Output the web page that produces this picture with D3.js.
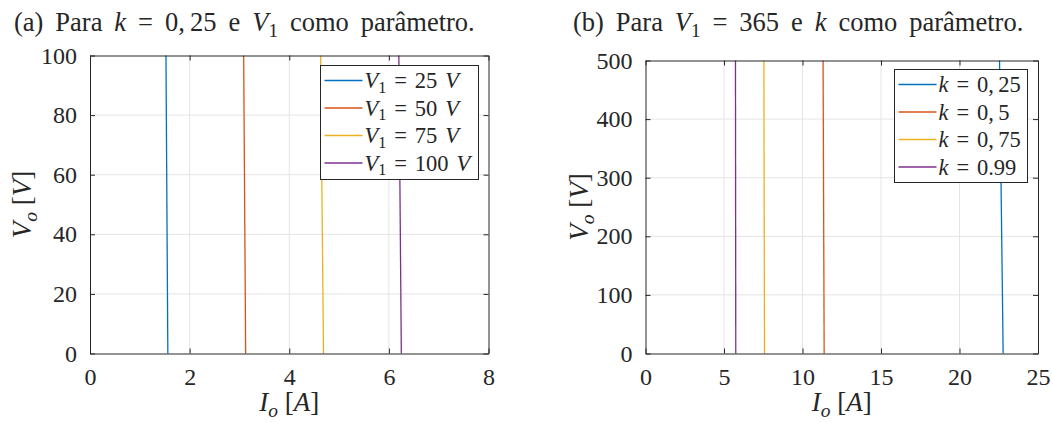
<!DOCTYPE html>
<html>
<head>
<meta charset="utf-8">
<script src="https://cdn.jsdelivr.net/npm/d3@7"></script>
<style>
  html, body { margin: 0; padding: 0; background: #fff; }
  svg { display: block; }
</style>
</head>
<body>
<svg id="chart" width="1053" height="423"></svg>
<script>
// Panel (a): k = 0,25, V1 as parameter
const v1Values = [25, 50, 75, 100];
const ioAtZeroA = [1.5625, 3.125, 4.6875, 6.25];   // Io [A] at Vo = 0
const ioAtTopA  = [1.525, 3.085, 4.63, 6.2];       // Io [A] at Vo = 100
const voEndsA   = [0, 100];
const xTicksA = [0, 2, 4, 6, 8];
const yTicksA = [0, 20, 40, 60, 80, 100];

// Panel (b): V1 = 365, k as parameter
const kLabels   = ["0,\u200925", "0,\u20095", "0,\u200975", "0.99"];
const ioAtZeroB = [22.78, 11.38, 7.58, 5.75];      // Io [A] at Vo = 0
const ioAtTopB  = [22.55, 11.31, 7.54, 5.73];      // Io [A] at Vo = 500
const voEndsB   = [0, 500];
const xTicksB = [0, 5, 10, 15, 20, 25];
const yTicksB = [0, 100, 200, 300, 400, 500];

const colors = ["#0072BD", "#D95319", "#EDB120", "#7E2F8E"];
const axisColor = "#262626";
const gridColor = "#e4e4e4";
const FONT = "'Liberation Serif', Tinos, 'Times New Roman', 'DejaVu Serif', serif";

const svg = d3.select("#chart");

// Writes a run of math-like segments: {t, i (italic), sub (subscript)}
function mathText(sel, segs, size, wordSpacing) {
  sel.style("font-family", FONT).style("font-size", size + "px").attr("fill", axisColor)
    .style("word-spacing", (wordSpacing || 0) + "em");
  let shift = 0;
  segs.forEach(s => {
    const ts = sel.append("tspan").text(s.t).style("font-size", (s.sub ? size * 0.72 : size) + "px");
    if (s.i) ts.style("font-style", "italic");
    const target = s.sub ? size * 0.22 : 0;
    if (target !== shift) { ts.attr("dy", target - shift); shift = target; }
  });
  return sel;
}

function panel(cfg) {
  const g = svg.append("g");
  const x = d3.scaleLinear().domain(cfg.xDomain).range([cfg.left, cfg.right]);
  const y = d3.scaleLinear().domain(cfg.yDomain).range([cfg.bottom, cfg.top]);

  // grid
  g.append("g").selectAll("line").data(cfg.xTicks.slice(1, -1)).join("line")
    .attr("x1", d => x(d)).attr("x2", d => x(d))
    .attr("y1", cfg.top).attr("y2", cfg.bottom)
    .attr("stroke", gridColor).attr("stroke-width", 1);
  g.append("g").selectAll("line").data(cfg.yTicks.slice(1, -1)).join("line")
    .attr("y1", d => y(d)).attr("y2", d => y(d))
    .attr("x1", cfg.left).attr("x2", cfg.right)
    .attr("stroke", gridColor).attr("stroke-width", 1);

  // data lines
  const line = d3.line().x(d => x(d[0])).y(d => y(d[1]));
  cfg.series.forEach((s, i) => {
    const pts = [[s.io0, cfg.yEnds[0]], [s.io1, cfg.yEnds[1]]];
    g.append("path").attr("d", line(pts))
      .attr("fill", "none").attr("stroke", colors[i]).attr("stroke-width", 1.3);
  });

  // axes with inward ticks on all four sides
  const tick = 5;
  const bottomAxis = d3.axisBottom(x).tickValues(cfg.xTicks).tickSizeInner(-tick).tickSizeOuter(0).tickPadding(14);
  const topAxis = d3.axisTop(x).tickValues(cfg.xTicks).tickSizeInner(-tick).tickSizeOuter(0).tickFormat("");
  const leftAxis = d3.axisLeft(y).tickValues(cfg.yTicks).tickSizeInner(-tick).tickSizeOuter(0).tickPadding(13);
  const rightAxis = d3.axisRight(y).tickValues(cfg.yTicks).tickSizeInner(-tick).tickSizeOuter(0).tickFormat("");

  const styleAxis = a => {
    a.select(".domain").attr("stroke", axisColor).attr("stroke-width", 1);
    a.selectAll(".tick line").attr("stroke", axisColor).attr("stroke-width", 1);
    a.selectAll(".tick text").attr("fill", axisColor)
      .style("font-family", FONT).style("font-size", "24px");
  };
  g.append("g").attr("transform", `translate(0,${cfg.bottom})`).call(bottomAxis).call(styleAxis);
  g.append("g").attr("transform", `translate(0,${cfg.top})`).call(topAxis).call(styleAxis);
  g.append("g").attr("transform", `translate(${cfg.left},0)`).call(leftAxis).call(styleAxis);
  g.append("g").attr("transform", `translate(${cfg.right},0)`).call(rightAxis).call(styleAxis);

  // axis labels
  const xl = g.append("text").attr("x", (cfg.left + cfg.right) / 2).attr("y", 411)
    .attr("text-anchor", "middle");
  mathText(xl, [{t: "I", i: true}, {t: "o", i: true, sub: true}, {t: " ["}, {t: "A", i: true}, {t: "]"}], 27);

  const yl = g.append("text")
    .attr("transform", `translate(${cfg.ylabelX},${(cfg.top + cfg.bottom) / 2}) rotate(-90)`)
    .attr("text-anchor", "middle");
  mathText(yl, [{t: "V", i: true}, {t: "o", i: true, sub: true}, {t: " ["}, {t: "V", i: true}, {t: "]"}], 27);

  // title
  const tt = g.append("text").attr("x", cfg.titleX).attr("y", 31);
  mathText(tt, cfg.title, 26.5, 0.2);

  // legend
  const lg = g.append("g");
  lg.append("rect").attr("x", cfg.legend.x).attr("y", cfg.legend.y)
    .attr("width", cfg.legend.w).attr("height", cfg.legend.h)
    .attr("fill", "#fff").attr("stroke", axisColor).attr("stroke-width", 1);
  cfg.series.forEach((s, i) => {
    const ry = cfg.legend.y + 15 + i * 27.5;
    lg.append("line").attr("x1", cfg.legend.x + 4).attr("x2", cfg.legend.x + 42)
      .attr("y1", ry).attr("y2", ry).attr("stroke", colors[i]).attr("stroke-width", 1.3);
    const t = lg.append("text").attr("x", cfg.legend.x + 44).attr("y", ry + 7.5);
    mathText(t, s.label, 22.5, 0.1);
  });
}

panel({
  left: 90, right: 488.5, top: 55.5, bottom: 353.5,
  xDomain: [0, 8], yDomain: [0, 100], yEnds: voEndsA,
  xTicks: xTicksA, yTicks: yTicksA,
  ylabelX: 31, titleX: 14,
  title: [{t: "(a) Para "}, {t: "k", i: true}, {t: " = 0,\u200925 e "}, {t: "V", i: true}, {t: "1", sub: true}, {t: " como parâmetro."}],
  legend: {x: 320.5, y: 65.5, w: 158, h: 114},
  series: v1Values.map((v, i) => ({
    io0: ioAtZeroA[i], io1: ioAtTopA[i],
    label: [{t: "V", i: true}, {t: "1", sub: true}, {t: " = " + v + " "}, {t: "V", i: true}]
  }))
});

panel({
  left: 645.5, right: 1038, top: 60.5, bottom: 353.5,
  xDomain: [0, 25], yDomain: [0, 500], yEnds: voEndsB,
  xTicks: xTicksB, yTicks: yTicksB,
  ylabelX: 588, titleX: 573,
  title: [{t: "(b) Para "}, {t: "V", i: true}, {t: "1", sub: true}, {t: " = 365 e "}, {t: "k", i: true}, {t: " como parâmetro."}],
  legend: {x: 894.5, y: 69.5, w: 133, h: 113},
  series: kLabels.map((k, i) => ({
    io0: ioAtZeroB[i], io1: ioAtTopB[i],
    label: [{t: "k", i: true}, {t: " = " + k}]
  }))
});
</script>
</body>
</html>
